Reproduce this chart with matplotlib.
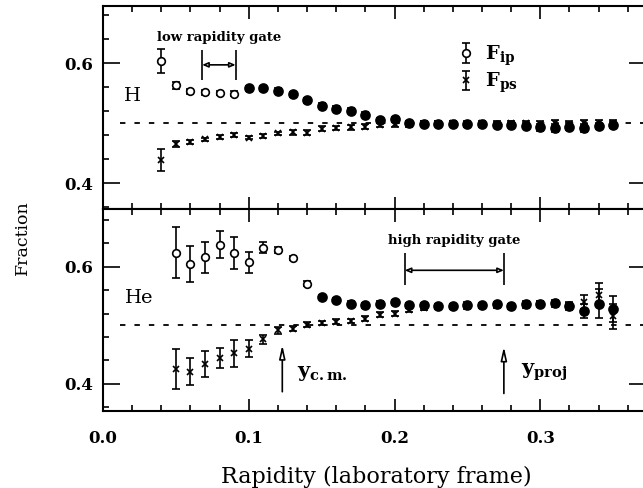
import numpy as np
import matplotlib.pyplot as plt
from matplotlib.ticker import MultipleLocator

plt.rcParams['font.family'] = 'DejaVu Serif'
plt.rcParams['mathtext.fontset'] = 'dejavuserif'

# --- data ---
rap_H = [0.04, 0.05, 0.06, 0.07, 0.08, 0.09, 0.10, 0.11, 0.12, 0.13, 0.14,
         0.15, 0.16, 0.17, 0.18, 0.19, 0.20, 0.21, 0.22, 0.23, 0.24, 0.25,
         0.26, 0.27, 0.28, 0.29, 0.30, 0.31, 0.32, 0.33, 0.34, 0.35]
fip_H = [0.603, 0.563, 0.553, 0.551, 0.550, 0.549, 0.558, 0.558, 0.554, 0.548,
         0.538, 0.529, 0.524, 0.521, 0.514, 0.505, 0.507, 0.500, 0.499, 0.499,
         0.499, 0.498, 0.498, 0.497, 0.497, 0.496, 0.493, 0.492, 0.494, 0.492,
         0.496, 0.497]
fip_H_err = [0.020, 0.006, 0.004, 0.004, 0.004, 0.004, 0.004, 0.004, 0.004,
             0.004, 0.004, 0.004, 0.004, 0.004, 0.004, 0.004, 0.004, 0.004,
             0.004, 0.004, 0.004, 0.004, 0.004, 0.004, 0.004, 0.004, 0.006,
             0.006, 0.006, 0.006, 0.005, 0.005]
fps_H = [0.439, 0.465, 0.469, 0.473, 0.477, 0.480, 0.476, 0.479, 0.483, 0.485,
         0.484, 0.491, 0.492, 0.493, 0.494, 0.497, 0.498, 0.498, 0.499, 0.499,
         0.500, 0.499, 0.500, 0.499, 0.500, 0.500, 0.499, 0.500, 0.499, 0.500,
         0.500, 0.500]
fps_H_err = [0.018, 0.005, 0.003, 0.003, 0.003, 0.003, 0.003, 0.003, 0.003,
             0.004, 0.004, 0.004, 0.004, 0.004, 0.004, 0.004, 0.004, 0.004,
             0.004, 0.004, 0.004, 0.004, 0.004, 0.004, 0.004, 0.004, 0.005,
             0.005, 0.005, 0.005, 0.005, 0.005]

rap_He = [0.05, 0.06, 0.07, 0.08, 0.09, 0.10, 0.11, 0.12, 0.13, 0.14, 0.15,
          0.16, 0.17, 0.18, 0.19, 0.20, 0.21, 0.22, 0.23, 0.24, 0.25, 0.26,
          0.27, 0.28, 0.29, 0.30, 0.31, 0.32, 0.33, 0.34, 0.35]
fip_He = [0.624, 0.605, 0.616, 0.638, 0.624, 0.608, 0.633, 0.629, 0.615, 0.571,
          0.548, 0.543, 0.537, 0.534, 0.537, 0.539, 0.534, 0.534, 0.533, 0.533,
          0.535, 0.534, 0.536, 0.533, 0.537, 0.537, 0.538, 0.533, 0.525, 0.537,
          0.528]
fip_He_err = [0.044, 0.031, 0.026, 0.023, 0.027, 0.018, 0.009, 0.005, 0.004,
              0.004, 0.004, 0.004, 0.004, 0.004, 0.004, 0.004, 0.004, 0.004,
              0.004, 0.004, 0.004, 0.004, 0.004, 0.004, 0.005, 0.005, 0.005,
              0.006, 0.012, 0.025, 0.022]
fps_He = [0.425, 0.420, 0.433, 0.444, 0.452, 0.460, 0.476, 0.491, 0.494, 0.501,
          0.504, 0.506, 0.507, 0.511, 0.518, 0.520, 0.526, 0.530, 0.531, 0.532,
          0.532, 0.533, 0.534, 0.532, 0.535, 0.536, 0.536, 0.532, 0.540, 0.552,
          0.515]
fps_He_err = [0.034, 0.023, 0.022, 0.017, 0.023, 0.015, 0.008, 0.006, 0.004,
              0.004, 0.004, 0.004, 0.004, 0.004, 0.004, 0.004, 0.004, 0.004,
              0.004, 0.004, 0.004, 0.004, 0.004, 0.004, 0.005, 0.005, 0.005,
              0.006, 0.012, 0.020, 0.022]

# gates and reference rapidities
low_gate = (0.068, 0.091)
high_gate = (0.207, 0.275)
y_cm = 0.123
y_proj = 0.275
ref_level = 0.5

# --- figure ---
fig = plt.figure(figsize=(6.43, 4.88), dpi=100)
W, H = 643, 488
x0, x1 = 103, 646   # right frame falls just outside the picture, as in the scan
ax1 = fig.add_axes([x0 / W, 1 - 209 / H, (x1 - x0) / W, 203 / H])
ax2 = fig.add_axes([x0 / W, 1 - 411 / H, (x1 - x0) / W, 202 / H], sharex=ax1)


def draw_panel(ax, x, fip, fip_err, fps, fps_err, n_open):
    kw = dict(ecolor='k', elinewidth=1.2, capsize=2.8, capthick=1.2, mew=1.2, ls='none')
    h_ip = ax.errorbar(x[:n_open], fip[:n_open], yerr=fip_err[:n_open], marker='o',
                       mfc='white', mec='k', ms=5.5, **kw)
    ax.errorbar(x[n_open:], fip[n_open:], yerr=fip_err[n_open:], marker='o',
                mfc='k', mec='k', ms=6.5, **kw)
    h_ps = ax.errorbar(x, fps, yerr=fps_err, marker='x', mec='k', ms=5, **kw)
    ax.hlines(ref_level, 0.012, 0.375, colors='k', linestyles=(0, (3, 5)), lw=1.3)
    return h_ip, h_ps


h_ip, h_ps = draw_panel(ax1, rap_H, fip_H, fip_H_err, fps_H, fps_H_err, 6)
draw_panel(ax2, rap_He, fip_He, fip_He_err, fps_He, fps_He_err, 10)

ax1.set_ylim(0.357, 0.695)
ax2.set_ylim(0.353, 0.699)
for ax in (ax1, ax2):
    ax.set_xlim(0.0, 0.3725)
    ax.xaxis.set_major_locator(MultipleLocator(0.1))
    ax.xaxis.set_minor_locator(MultipleLocator(0.02))
    ax.set_yticks([0.4, 0.6])
    ax.yaxis.set_minor_locator(MultipleLocator(0.04))
    ax.tick_params(which='both', direction='in', top=True, right=True, width=1.2,
                   labelsize=12)
    ax.tick_params(axis='x', which='major', length=9, pad=14)
    ax.tick_params(axis='y', which='major', length=12, pad=7)
    ax.tick_params(which='minor', length=4)
    ax.tick_params(axis='y', which='minor', right=False)
    for s in ax.spines.values():
        s.set_linewidth(1.5)
    for lab in ax.get_xticklabels() + ax.get_yticklabels():
        lab.set_fontweight('bold')
ax1.tick_params(labelbottom=False)

# legend
ax1.legend([h_ip, h_ps], [r'$\mathbf{F}_{\mathbf{ip}}$', r'$\mathbf{F}_{\mathbf{ps}}$'],
           loc='upper left', bbox_to_anchor=(0.625, 0.9), frameon=False,
           handlelength=0.6, handletextpad=0.7, fontsize=14, labelspacing=0.15)

# panel labels
ax1.text(0.020, 0.545, 'H', fontsize=14, ha='center', va='center')
ax2.text(0.025, 0.546, 'He', fontsize=14, ha='center', va='center')

# gates
gate_arrow = dict(arrowstyle='<|-|>,head_length=0.35,head_width=0.15', fc='white',
                  ec='k', lw=1.2, shrinkA=0, shrinkB=0)
ax1.vlines(low_gate, 0.572, 0.622, colors='k', lw=1.2)
ax1.annotate('', xy=(low_gate[0], 0.597), xytext=(low_gate[1], 0.597), arrowprops=gate_arrow)
ax1.text(sum(low_gate) / 2, 0.643, 'low rapidity gate', fontsize=9.5, fontweight='bold',
         ha='center', va='center')
ax2.vlines(high_gate, 0.569, 0.623, colors='k', lw=1.2)
ax2.annotate('', xy=(high_gate[0], 0.594), xytext=(high_gate[1], 0.594), arrowprops=gate_arrow)
ax2.text(sum(high_gate) / 2, 0.645, 'high rapidity gate', fontsize=9.5, fontweight='bold',
         ha='center', va='center')

# y_cm and y_proj arrows
up_arrow = dict(arrowstyle='-|>,head_length=0.8,head_width=0.18', fc='white', ec='k',
                lw=1.2, shrinkA=0, shrinkB=0)
ax2.annotate('', xy=(y_cm, 0.466), xytext=(y_cm, 0.386), arrowprops=up_arrow)
ax2.text(y_cm + 0.01, 0.418, r'$\mathbf{y}_{\mathbf{c.m.}}$', fontsize=15, va='center')
ax2.annotate('', xy=(y_proj, 0.463), xytext=(y_proj, 0.383), arrowprops=up_arrow)
ax2.text(y_proj + 0.012, 0.420, r'$\mathbf{y}_{\mathbf{proj}}$', fontsize=15, va='center')

fig.text(376 / W, 1 - 477 / H, 'Rapidity (laboratory frame)', fontsize=16,
         ha='center', va='center')
fig.text(22 / W, 1 - 238 / H, 'Fraction', fontsize=12.5, rotation=90, ha='center', va='center')

fig.savefig('out.png', dpi=100)
